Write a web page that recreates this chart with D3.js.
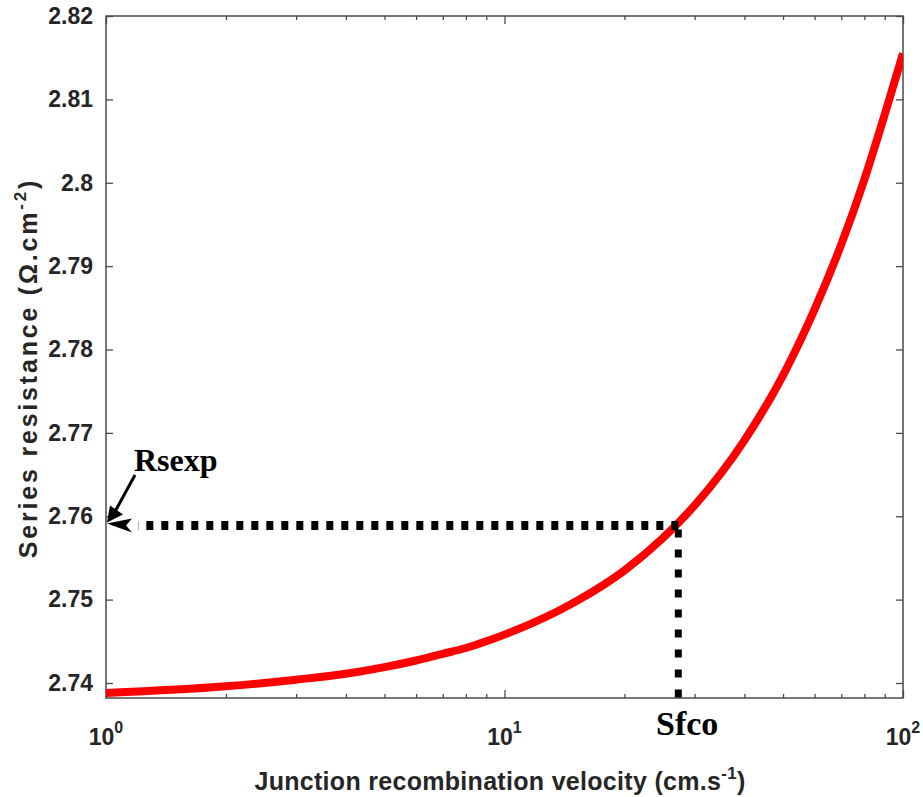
<!DOCTYPE html>
<html><head><meta charset="utf-8">
<script src="https://cdn.jsdelivr.net/npm/d3@7"></script>
<style>body{margin:0;background:#fff}</style>
</head><body><svg id="c" width="923" height="797"></svg>
<script>
// Data
const velocity   = [1, 2, 3, 4, 5, 6, 7, 8, 9, 10, 15, 20, 25, 30, 40, 50, 60, 70, 80, 90, 100];
const resistance = [2.7388, 2.7396, 2.7404, 2.7411, 2.7419, 2.7427, 2.7435, 2.7442, 2.7450, 2.7458,
                    2.7497, 2.7535, 2.7574, 2.7613, 2.7691, 2.7769, 2.7848, 2.7926, 2.8004, 2.8082, 2.8155];
const yTicks      = [2.74, 2.75, 2.76, 2.77, 2.78, 2.79, 2.80, 2.81, 2.82];
const yTickLabels = ["2.74", "2.75", "2.76", "2.77", "2.78", "2.79", "2.8", "2.81", "2.82"];
const xMajor      = [1, 10, 100];
const xMajorExp   = ["0", "1", "2"];
const xMinor      = [2, 3, 4, 5, 6, 7, 8, 9, 20, 30, 40, 50, 60, 70, 80, 90];
const rsexp = 2.7589;   // experimental series resistance
const sfco  = 27.3;     // corresponding Sf

const svg = d3.select("#c");
const L = 106, R = 903, T = 16, B = 698;
const x = d3.scaleLog().domain([1, 100]).range([L, R]);
const y = d3.scaleLinear().domain([2.7382, 2.82]).range([B, T]);
const axisColor = "#4a4a4a", textColor = "#262626";
const font = "'Liberation Sans', Arial, sans-serif";
const serif = "'Liberation Serif', 'Times New Roman', serif";

svg.append("defs").append("clipPath").attr("id", "clip")
  .append("rect").attr("x", L).attr("y", T).attr("width", R - L).attr("height", B - T);

function styleAxis(g) {
  g.select(".domain").remove();
  g.selectAll("line").attr("stroke", axisColor).attr("stroke-width", 1.3);
}
svg.append("g").attr("transform", `translate(0,${B})`)
  .call(d3.axisBottom(x).tickValues(xMajor).tickSizeInner(-8).tickSizeOuter(0).tickFormat(""))
  .call(styleAxis);
svg.append("g").attr("transform", `translate(0,${B})`)
  .call(d3.axisBottom(x).tickValues(xMinor).tickSizeInner(-4).tickSizeOuter(0).tickFormat(""))
  .call(styleAxis);
svg.append("g").attr("transform", `translate(0,${T})`)
  .call(d3.axisTop(x).tickValues(xMajor).tickSizeInner(-8).tickSizeOuter(0).tickFormat(""))
  .call(styleAxis);
svg.append("g").attr("transform", `translate(0,${T})`)
  .call(d3.axisTop(x).tickValues(xMinor).tickSizeInner(-4).tickSizeOuter(0).tickFormat(""))
  .call(styleAxis);
const gl = svg.append("g").attr("transform", `translate(${L},0)`)
  .call(d3.axisLeft(y).tickValues(yTicks).tickSizeInner(-7).tickSizeOuter(0).tickPadding(13)
    .tickFormat((d, i) => yTickLabels[i]))
  .call(styleAxis);
gl.selectAll("text").attr("font-family", font).attr("font-weight", "bold")
  .attr("font-size", 23).attr("fill", textColor);
svg.append("g").attr("transform", `translate(${R},0)`)
  .call(d3.axisRight(y).tickValues(yTicks).tickSizeInner(-7).tickSizeOuter(0).tickFormat(""))
  .call(styleAxis);

svg.append("rect").attr("x", L).attr("y", T).attr("width", R - L).attr("height", B - T)
  .attr("fill", "none").attr("stroke", axisColor).attr("stroke-width", 1.5);

// x tick labels with superscripts
const xl = svg.append("g").selectAll("text").data(xMajor).join("text")
  .attr("x", d => x(d)).attr("y", B + 47)
  .attr("text-anchor", "middle")
  .attr("font-family", font).attr("font-weight", "bold").attr("font-size", 23).attr("fill", textColor);
xl.append("tspan").text("10");
xl.append("tspan").attr("dy", -12).attr("font-size", 16).text((d, i) => xMajorExp[i]);

// axis titles
const xt = svg.append("text").attr("x", 500).attr("y", 790).attr("text-anchor", "middle")
  .attr("font-family", font).attr("font-weight", "bold").attr("font-size", 25).attr("fill", textColor)
  .attr("letter-spacing", 0.3);
xt.append("tspan").text("Junction recombination velocity (cm.s");
xt.append("tspan").attr("dy", -11).attr("font-size", 17).text("-1");
xt.append("tspan").attr("dy", 11).text(")");

const yt = svg.append("text").attr("transform", "translate(37,368) rotate(-90)").attr("text-anchor", "middle")
  .attr("font-family", font).attr("font-weight", "bold").attr("font-size", 25).attr("fill", textColor)
  .attr("letter-spacing", 2.8);
yt.append("tspan").text("Series resistance (Ω.cm");
yt.append("tspan").attr("dy", -11).attr("font-size", 17).text("-2");
yt.append("tspan").attr("dy", 11).text(")");

// curve
const line = d3.line().x((d, i) => x(velocity[i])).y(d => y(d)).curve(d3.curveMonotoneX);
svg.append("path").attr("d", line(resistance)).attr("clip-path", "url(#clip)")
  .attr("fill", "none").attr("stroke", "#ff0000").attr("stroke-width", 8);

// dotted guides
svg.append("line").attr("x1", x(sfco)).attr("x2", L + 32).attr("y1", y(rsexp)).attr("y2", y(rsexp))
  .attr("stroke", "#000").attr("stroke-width", 9).attr("stroke-dasharray", "7,8");
svg.append("line").attr("x1", x(sfco)).attr("x2", x(sfco)).attr("y1", y(rsexp) + 4).attr("y2", B)
  .attr("stroke", "#000").attr("stroke-width", 7).attr("stroke-dasharray", "8,12");

// arrowheads
const ay = y(rsexp);
svg.append("path").attr("d", `M${L + 1},${ay - 2} L${L + 26},${ay - 7} L${L + 20},${ay} L${L + 26},${ay + 7} Z`)
  .attr("fill", "#000");
svg.append("line").attr("x1", 135).attr("y1", 475).attr("x2", L + 8).attr("y2", ay - 12)
  .attr("stroke", "#000").attr("stroke-width", 3);
svg.append("path").attr("d", `M${L + 1},${ay - 3} L${L + 4},${ay - 20} L${L + 17},${ay - 11} Z`)
  .attr("fill", "#000");

// annotations
svg.append("text").attr("x", 134).attr("y", 471).attr("font-family", serif)
  .attr("font-weight", "bold").attr("font-size", 32).attr("fill", "#000").text("Rsexp");
svg.append("text").attr("x", 656).attr("y", 735).attr("font-family", serif)
  .attr("font-weight", "bold").attr("font-size", 34).attr("fill", "#000").text("Sfco");
</script></body></html>
